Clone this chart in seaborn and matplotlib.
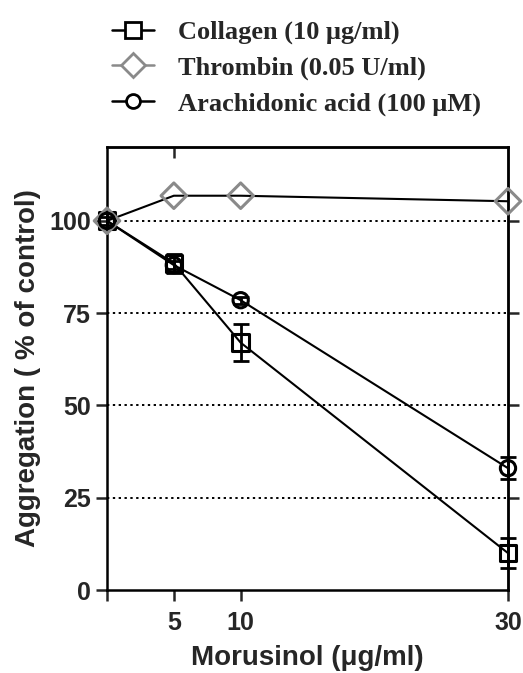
import numpy as np
import pandas as pd
import seaborn as sns
import matplotlib.pyplot as plt
from matplotlib.lines import Line2D

# data
dose = [0, 5, 10, 30]
collagen = [100, 88.5, 67, 10]
collagen_err = [2, 2.5, 5, 4]
thrombin = [100, 106.8, 106.8, 105.3]
thrombin_err = [0, 0, 0, 0]
arachidonic = [100, 88, 78.5, 33]
arachidonic_err = [1, 1, 1, 3]

labels = ["Collagen (10 \u03bcg/ml)", "Thrombin (0.05 U/ml)", "Arachidonic acid (100 \u03bcM)"]
markers = ["s", "D", "o"]
edge_colors = ["black", "#8a8a8a", "black"]
marker_sizes = [12, 13, 11]

df = pd.DataFrame({
    "dose": dose * 3,
    "value": collagen + thrombin + arachidonic,
    "err": collagen_err + thrombin_err + arachidonic_err,
    "agent": [labels[0]] * 4 + [labels[1]] * 4 + [labels[2]] * 4,
})

sns.set_style("ticks")
plt.rcParams['font.family'] = ['Liberation Sans', 'DejaVu Sans']

fig = plt.figure(figsize=(5.23, 6.73), dpi=100)
ax = fig.add_axes([0.2046, 0.1233, 0.7667, 0.6583])

# dotted grid lines
for yv in [25, 50, 75, 100]:
    ax.axhline(yv, color="black", linestyle=(0, (1.2, 1.8)), linewidth=1.4, zorder=0)

sns.lineplot(data=df, x="dose", y="value", units="agent", estimator=None,
             color="black", linewidth=1.5, ax=ax, zorder=2)

for i, lab in enumerate(labels):
    sub = df[df["agent"] == lab]
    if sub["err"].max() > 0:
        eb = ax.errorbar(sub["dose"], sub["value"], yerr=sub["err"], fmt="none",
                         ecolor="black", elinewidth=2, capsize=6, capthick=2, zorder=3)
        for art in eb.lines[1] + eb.lines[2]:
            art.set_clip_on(False)
    sns.scatterplot(data=sub, x="dose", y="value", marker=markers[i],
                    s=marker_sizes[i] ** 2, facecolor="none",
                    edgecolor=edge_colors[i], linewidth=2.2, ax=ax, zorder=4,
                    clip_on=False)

ax.set_xlim(0, 30)
ax.set_ylim(0, 120)
ax.set_xticks([0, 5, 10, 30])
ax.set_xticklabels(["", "5", "10", "30"])
ax.set_yticks([0, 25, 50, 75, 100])
ax.tick_params(axis="both", labelsize=18, width=1.8, length=8, direction="out")
ax.tick_params(axis="x", pad=7)
for t in ax.get_xticklabels() + ax.get_yticklabels():
    t.set_fontweight("bold")

for side in ["left", "bottom", "right", "top"]:
    ax.spines[side].set_visible(True)
    ax.spines[side].set_linewidth(1.8)
    ax.spines[side].set_color("black")

# right spine ticks at the y ticks, pointing outwards
sec = ax.secondary_yaxis("right")
sec.set_yticks([25, 50, 75, 100])
sec.set_yticklabels([])
sec.tick_params(length=8, width=1.8, direction="out")
sec.spines["right"].set_linewidth(1.8)

top = ax.secondary_xaxis("top")
top.set_xticks([5])
top.set_xticklabels([])
top.tick_params(length=8, width=1.8, direction="in")
top.spines["top"].set_linewidth(1.8)

ax.set_xlabel("Morusinol (\u03bcg/ml)", fontsize=20, fontweight="bold", labelpad=7)
ax.set_ylabel("Aggregation ( % of control)", fontsize=20, fontweight="bold", labelpad=6)

handles = [
    Line2D([], [], color=edge_colors[i] if i == 1 else "black", linewidth=1.8,
           marker=markers[i], markersize=marker_sizes[i] - 1, markerfacecolor="white",
           markeredgecolor=edge_colors[i], markeredgewidth=2)
    for i in range(3)
]
fig.legend(handles, labels, loc="upper left", bbox_to_anchor=(0.168, 1.005),
           frameon=False, handlelength=1.6, handletextpad=0.9, labelspacing=0.45,
           prop={"family": "Liberation Serif", "weight": "bold", "size": 19})

fig.savefig("out.png", dpi=100)
